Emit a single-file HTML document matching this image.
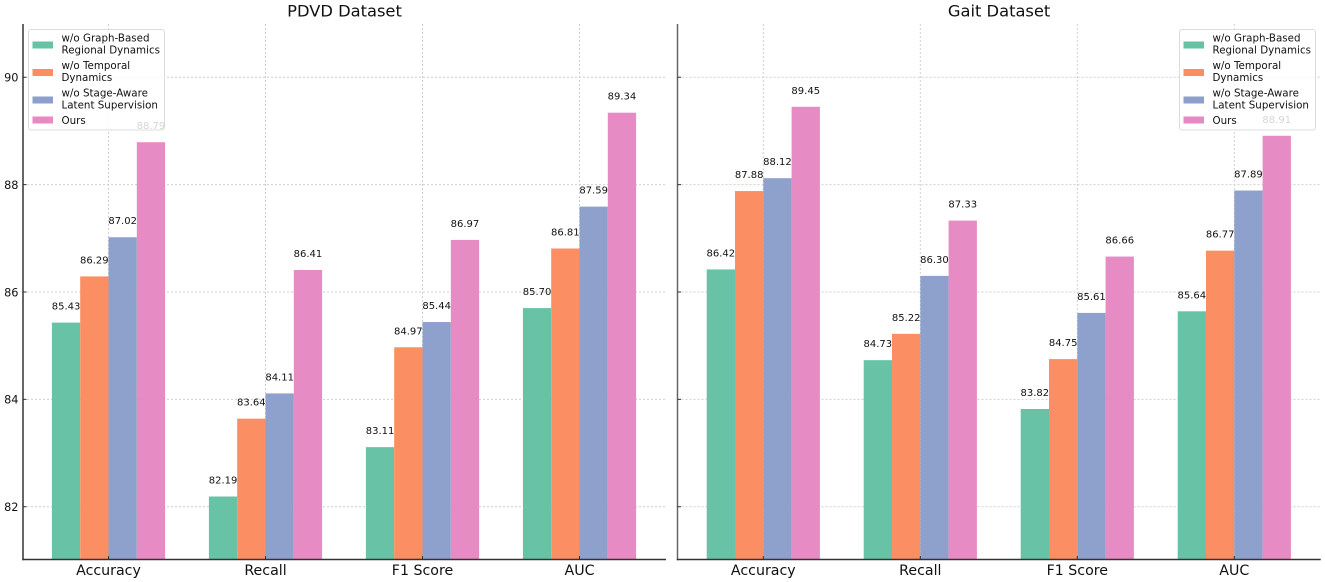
<!DOCTYPE html>
<html lang="en">
<head>
<meta charset="utf-8">
<title>PDVD and Gait Dataset Comparison</title>
<style>
html,body{margin:0;padding:0;background:#fff;width:1325px;height:582px;overflow:hidden}
svg{display:block;font-family:"DejaVu Sans","Liberation Sans",sans-serif;filter:blur(0.3px)}
</style>
</head>
<body>
<svg id="chart" xmlns="http://www.w3.org/2000/svg" width="1325" height="582" viewBox="0 0 1325 582"></svg>
<script>
const categories = ['Accuracy', 'Recall', 'F1 Score', 'AUC'];
const seriesNames = ['w/o Graph-Based\nRegional Dynamics', 'w/o Temporal\nDynamics', 'w/o Stage-Aware\nLatent Supervision', 'Ours'];
const seriesColors = ['#66c2a5', '#fc8d62', '#8da0cb', '#e78ac3'];
const yTicks = [82, 84, 86, 88, 90];
const pdvdGraph = [85.43, 82.19, 83.11, 85.70];
const pdvdTemporal = [86.29, 83.64, 84.97, 86.81];
const pdvdStage = [87.02, 84.11, 85.44, 87.59];
const pdvdOurs = [88.79, 86.41, 86.97, 89.34];
const gaitGraph = [86.42, 84.73, 83.82, 85.64];
const gaitTemporal = [87.88, 85.22, 84.75, 86.77];
const gaitStage = [88.12, 86.30, 85.61, 87.89];
const gaitOurs = [89.45, 87.33, 86.66, 88.91];

const svg = document.getElementById('chart');
const NS = 'http://www.w3.org/2000/svg';
function make(tag, attrs, parent, text) {
  const el = document.createElementNS(NS, tag);
  for (const k in attrs) el.setAttribute(k, attrs[k]);
  if (text !== undefined) el.textContent = text;
  parent.appendChild(el);
  return el;
}
const top0 = 24, bottom0 = 559.5;
function yScale(v) { return 506.7 - (v - 82) * 53.68; }
const groupStep = 157, barW = 28.3;

function drawPanel(cfg) {
  const g = make('g', {}, svg);
  
  
  const xScale = i => cfg.x0 + i * groupStep;

  const title = make('text', {x: (cfg.left + cfg.right) / 2, y: 16.5, 'text-anchor': 'middle', 'font-size': 16.3, fill: '#111'}, g, cfg.title);
  
  

  yTicks.forEach(t => {
    const line = make('line', {x1: cfg.left, x2: cfg.right, y1: yScale(t), y2: yScale(t), stroke: '#cfcfcf', 'stroke-width': 1, 'stroke-dasharray': '2 2'}, g);
    
    
  });
  categories.forEach((c, i) => {
    const line = make('line', {x1: xScale(i), x2: xScale(i), y1: top0, y2: bottom0, stroke: '#cfcfcf', 'stroke-width': 1, 'stroke-dasharray': '2 2'}, g);
    
    
  });

  cfg.series.forEach((vals, s) => {
    vals.forEach((v, i) => {
      const x = xScale(i) + (s - 2) * barW;
      const bar = make('rect', {x: x, y: yScale(v), width: barW, height: bottom0 - yScale(v), fill: seriesColors[s], 'fill-opacity': 0.99}, g);
      
      
    });
  });
  cfg.series.forEach((vals, s) => {
    vals.forEach((v, i) => {
      const x = xScale(i) + (s - 2) * barW + barW / 2;
      const lab = make('text', {x: x, y: yScale(v) - 13, 'text-anchor': 'middle', 'font-size': 10, fill: '#111'}, g, v.toFixed(2));
      
      
    });
  });

  const ySpine = make('line', {x1: cfg.left, x2: cfg.left, y1: top0, y2: bottom0 + 0.7, stroke: cfg.spine, 'stroke-width': 1.5}, g);
  
  
  const xSpine = make('line', {x1: cfg.left - 0.7, x2: cfg.right, y1: bottom0, y2: bottom0, stroke: '#333', 'stroke-width': 1.5}, g);
  
  

  yTicks.forEach(t => {
    const tick = make('line', {x1: cfg.left, x2: cfg.left + 3.5, y1: yScale(t), y2: yScale(t), stroke: '#333', 'stroke-width': 1}, g);
    
    
    if (cfg.showY) {
      const lab = make('text', {x: 18.5, y: yScale(t) + 4.3, 'text-anchor': 'end', 'font-size': 11.3, fill: '#111'}, g, t);
      
      
    }
  });
  categories.forEach((c, i) => {
    const tick = make('line', {x1: xScale(i), x2: xScale(i), y1: bottom0 - 3.5, y2: bottom0, stroke: '#333', 'stroke-width': 1}, g);
    
    
    const lab = make('text', {x: xScale(i), y: 575, 'text-anchor': 'middle', 'font-size': 14.2, fill: '#111'}, g, c);
    
    
  });

  const lg = make('g', {}, g);
  
  
  make('rect', {x: cfg.legendX + 0.5, y: 29.5, width: 136, height: 100.5, rx: 2.5, fill: '#fff', 'fill-opacity': 0.82, stroke: '#dcdcdc', 'stroke-width': 1}, lg);
  const swatchY = [45, 72.5, 100, 120];
  const textY = [[41.5, 53.5], [69, 81], [96.5, 108.5], [124]];
  seriesNames.forEach((name, s) => {
    const sw = make('rect', {x: cfg.legendX + 4.5, y: swatchY[s] - 3.5, width: 20.5, height: 7, fill: seriesColors[s]}, lg);
    
    
    name.split('\n').forEach((line, k) => {
      const tx = make('text', {x: cfg.legendX + 33.5, y: textY[s][k], 'font-size': 10.3, fill: '#111'}, lg, line);
      
      
    });
  });
}

drawPanel({key: 'pdvd', title: 'PDVD Dataset', left: 23, right: 666, x0: 108.5, spine: '#333', showY: true, legendX: 28,
  series: [pdvdGraph, pdvdTemporal, pdvdStage, pdvdOurs]});
drawPanel({key: 'gait', title: 'Gait Dataset', left: 677.5, right: 1320.7, x0: 763.3, spine: '#666', showY: false, legendX: 1179,
  series: [gaitGraph, gaitTemporal, gaitStage, gaitOurs]});
</script>
</body>
</html>
